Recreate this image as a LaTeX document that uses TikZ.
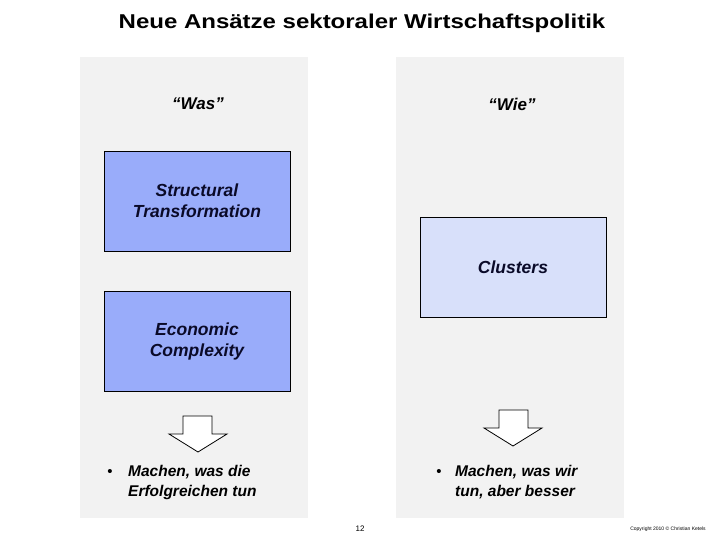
\documentclass[tikz,border=0pt]{standalone}
\usepackage{fontspec}
\setmainfont{Liberation Sans}
\definecolor{panel}{RGB}{242,242,242}
\definecolor{darkfill}{RGB}{153,172,250}
\definecolor{lightfill}{RGB}{216,224,250}
\definecolor{boxtext}{RGB}{10,10,40}
\begin{document}
\begin{tikzpicture}[x=1pt,y=-1pt,
  panelbox/.style={fill=panel,draw=none},
  conceptbox/.style={draw=black,line width=0.8pt,minimum width=186pt,minimum height=100pt,
    align=center,font=\fontsize{17.5}{21}\selectfont\bfseries\itshape,text=boxtext},
  heading/.style={font=\fontsize{17}{20}\selectfont\bfseries\itshape},
  arrowshape/.style={draw=black,fill=white,line width=0.8pt},
  bullettext/.style={font=\fontsize{15.5}{20}\selectfont\bfseries\itshape,align=left,anchor=north west,inner sep=0pt}]
\useasboundingbox (0,0) rectangle (720,540);
\fill[white] (0,0) rectangle (720,540);
\node (title) at (362,23) {\scalebox{1.2}[1]{\fontsize{20}{24}\selectfont\bfseries Neue Ansätze sektoraler Wirtschaftspolitik}};
\fill[panelbox] (80,57) rectangle (308,518);
\fill[panelbox] (396,57) rectangle (624,518);
\node[heading] (was) at (198,104) {“Was”};
\node[heading] (wie) at (512,104) {“Wie”};
\node[conceptbox,fill=darkfill] (st) at (197,201) {Structural\\Transformation};
\node[conceptbox,fill=darkfill] (ec) at (197,341.5) {Economic\\Complexity};
\node[conceptbox,fill=lightfill] (cl) at (513,267.5) {Clusters};
\draw[arrowshape] (183,416) -- (212,416) -- (212,434) -- (227,434) -- (198,452) -- (169,434) -- (183,434) -- cycle;
\draw[arrowshape] (499,410) -- (528,410) -- (528,428) -- (542,428) -- (513,446) -- (484,428) -- (499,428) -- cycle;
\node[font=\fontsize{15}{18}\selectfont] (b1dot) at (110,473) {•};
\node[bullettext] (b1) at (128,465) {Machen, was die\\Erfolgreichen tun};
\node[font=\fontsize{15}{18}\selectfont] (b2dot) at (439,473) {•};
\node[bullettext] (b2) at (455,465) {Machen, was wir\\tun, aber besser};
\node (page) at (360,529) {\fontsize{8}{10}\selectfont 12};
\node (copy) at (668,529) {\fontsize{5}{6}\selectfont Copyright 2010 © Christian Ketels};
\end{tikzpicture}
\end{document}
